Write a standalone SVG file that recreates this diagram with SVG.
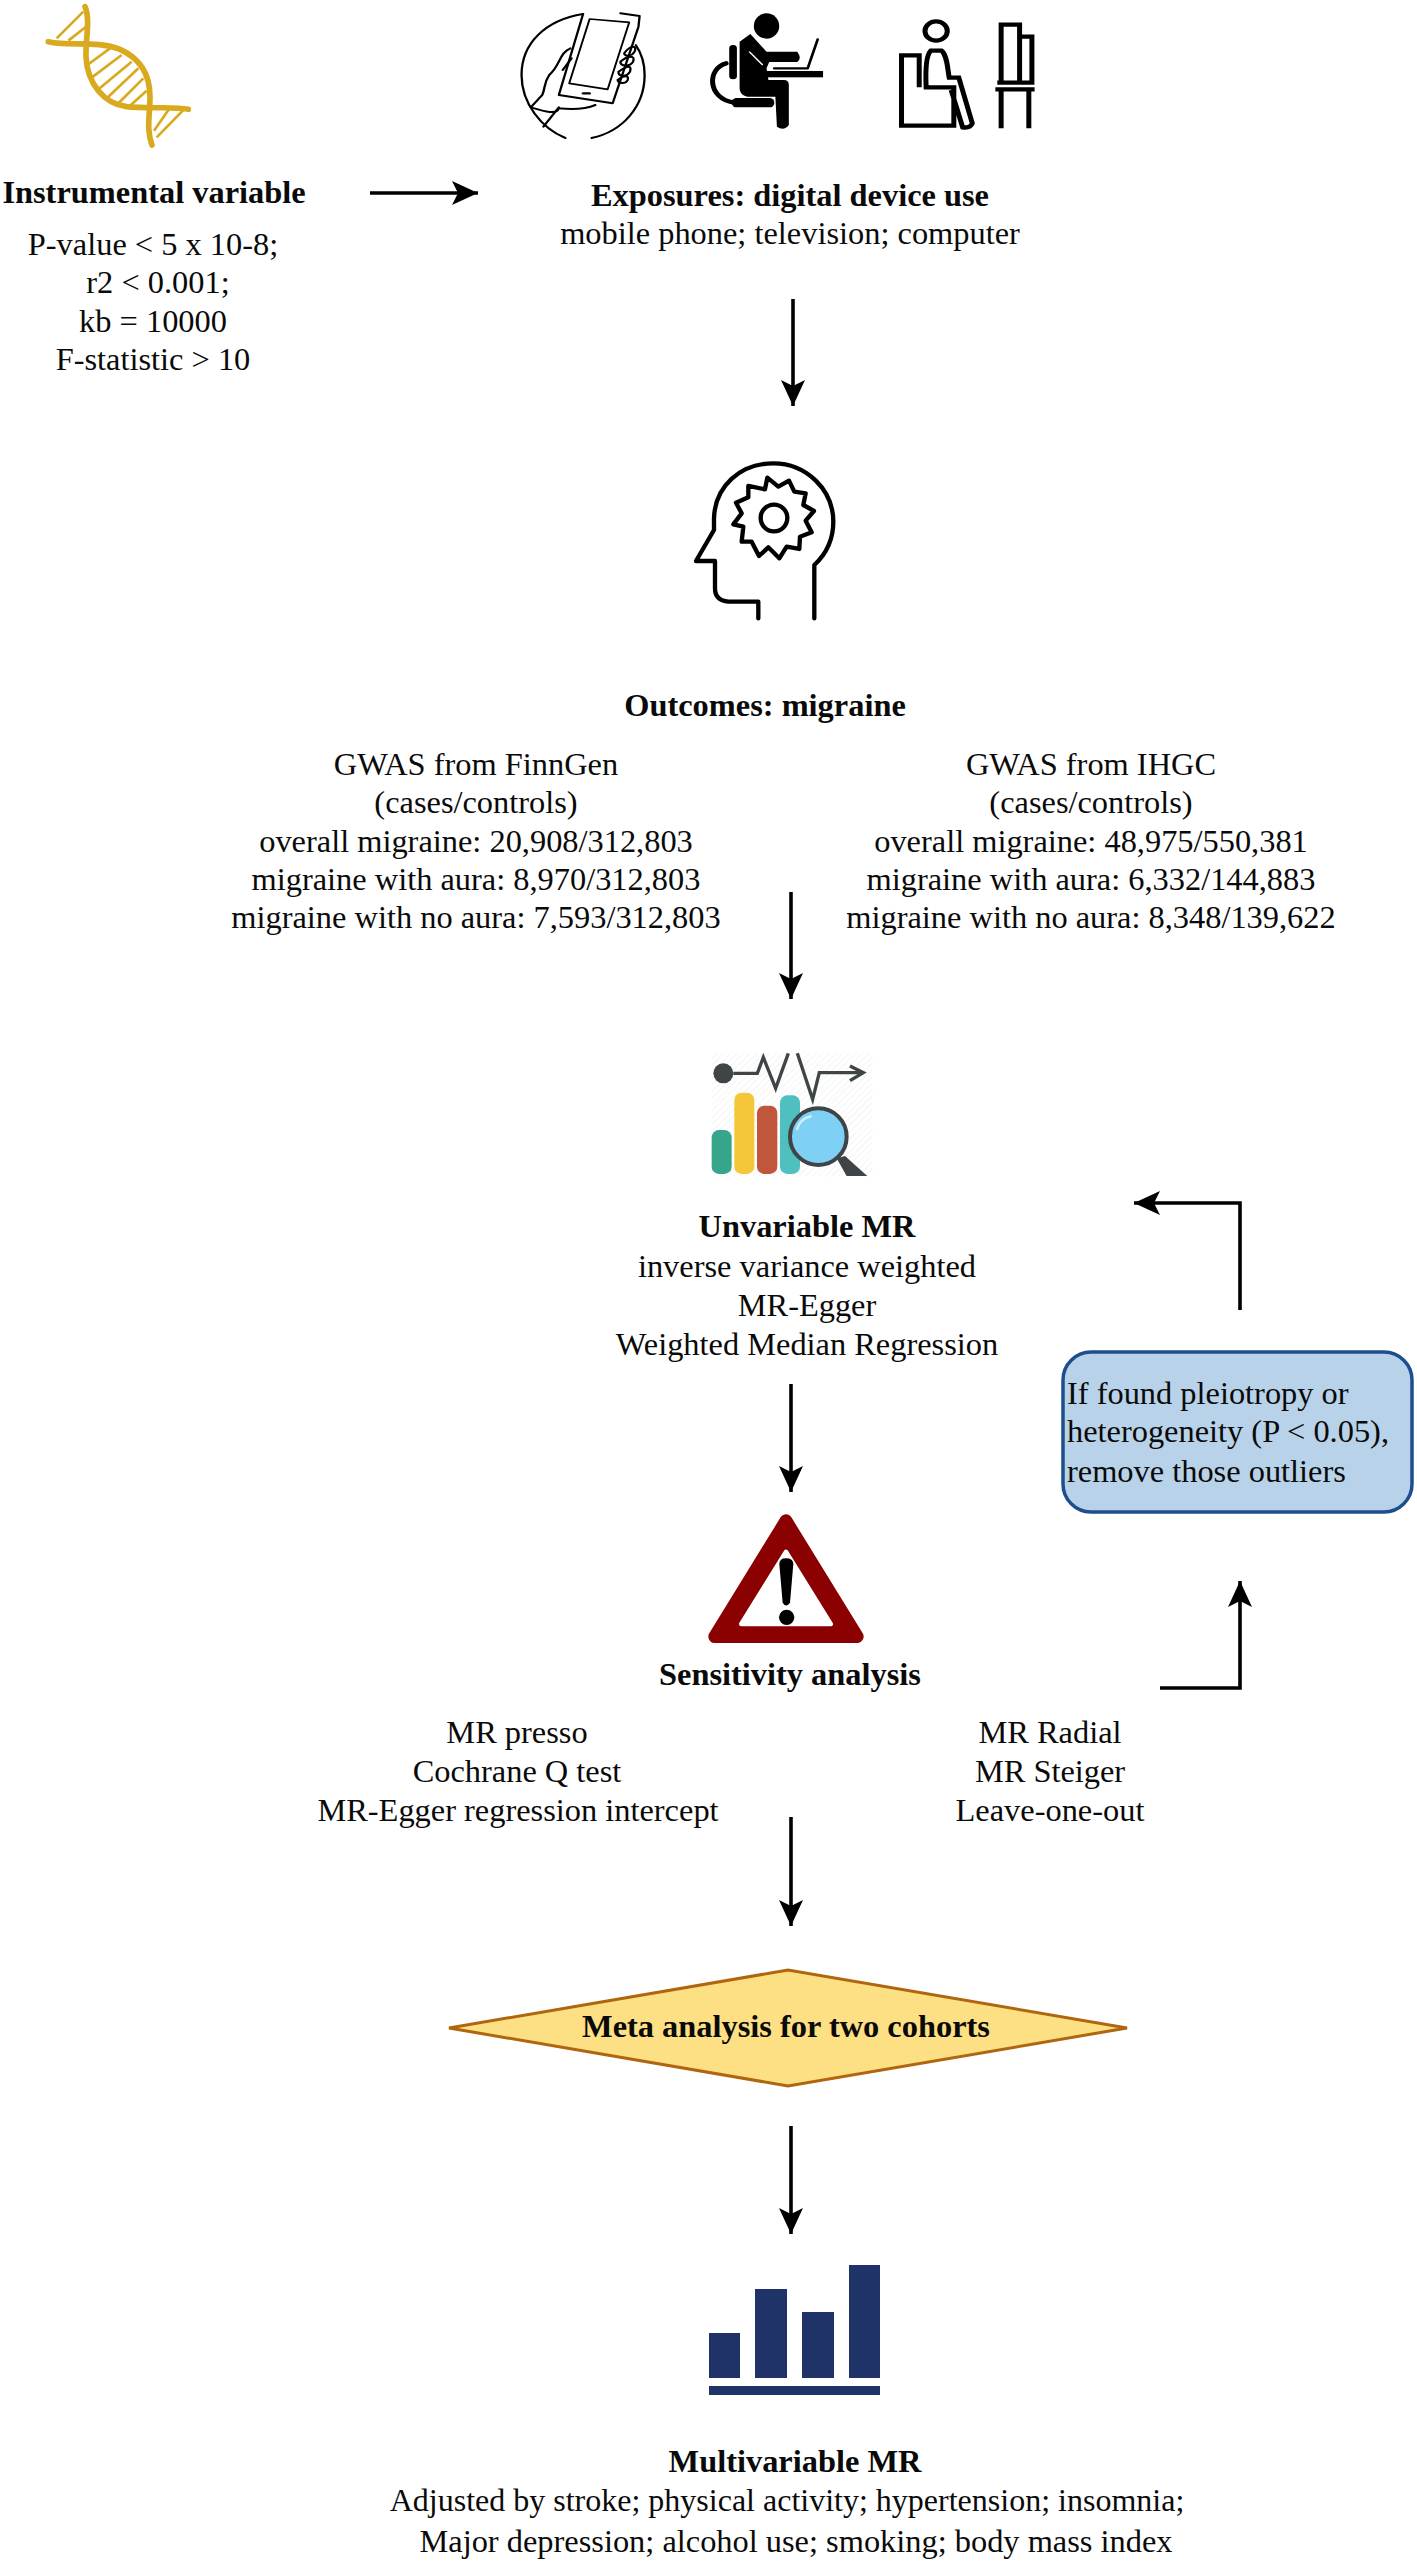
<svg xmlns="http://www.w3.org/2000/svg" width="1417" height="2561" viewBox="0 0 1417 2561">
<defs>
<style>
text{font-family:"Liberation Serif","Times New Roman",serif;font-size:32.4px;fill:#0a0a0a;text-anchor:middle}
.b{font-weight:bold}
.l{text-anchor:start}
.conn path{fill:none;stroke:#000;stroke-width:3.6}
.rung{stroke:#d9a91e;stroke-width:8;fill:none}
.strand{stroke:#d9a91e;stroke-width:17;fill:none;stroke-linecap:round}
.k{fill:none;stroke:#000;stroke-linecap:round;stroke-linejoin:round}
</style>
<marker id="ah" markerUnits="userSpaceOnUse" markerWidth="30" markerHeight="28" refX="26" refY="13" orient="auto">
<path d="M0 1 L26 13 L0 25 L6 13 Z" fill="#000"/>
</marker>
<pattern id="st" width="14" height="14" patternUnits="userSpaceOnUse" patternTransform="rotate(45)">
<rect width="14" height="14" fill="#fff"/><rect width="4" height="14" fill="#f6f6f6"/>
</pattern>
</defs>
<rect width="1417" height="2561" fill="#fff"/>

<g id="connectors" class="conn">
<path d="M370 193H478" marker-end="url(#ah)"/>
<path d="M793 299V406" marker-end="url(#ah)"/>
<path d="M791 892V999" marker-end="url(#ah)"/>
<path d="M791 1384V1492" marker-end="url(#ah)"/>
<path d="M791 1817V1926" marker-end="url(#ah)"/>
<path d="M791 2126V2234" marker-end="url(#ah)"/>
<path d="M1160 1688H1240V1581" marker-end="url(#ah)"/>
<path d="M1240 1310V1203H1134" marker-end="url(#ah)"/>
</g>

<g id="node-instrument">
<g transform="scale(.3333)">
<path class="rung" d="M170 115L250 35M205 122L265 75M262 195L330 145M272 235L365 165M290 272L395 185M315 300L415 205M350 315L430 235M385 322L440 272M462 392L512 320M470 412L555 325"/>
<path class="strand" d="M145 125C210 140 290 120 360 148C420 175 450 225 450 290C450 350 438 385 456 435"/>
<path class="strand" d="M255 20C272 60 256 120 258 170C262 250 310 310 380 320C450 328 520 318 565 328"/>
</g>
<text class="b" x="154" y="203">Instrumental variable</text>
<text x="153" y="255">P-value &lt; 5 x 10-8;</text>
<text x="158" y="293">r2 &lt; 0.001;</text>
<text x="153" y="332">kb = 10000</text>
<text x="153" y="370">F-statistic &gt; 10</text>
</g>

<g id="node-exposures">
<g transform="translate(480 0) scale(.3846 .3333)">
<g class="k" stroke-width="6">
<path d="M268 42C170 60 108 130 108 225C108 310 160 385 222 414"/>
<path d="M290 414C370 395 428 320 428 225C428 190 420 160 405 135"/>
<path d="M365 40L415 48L412 80L345 310L205 285L268 42"/>
<path d="M285 57L388 67L332 268L232 250Z" stroke-width="5"/>
<path d="M268 280H285" stroke-width="7"/>
<path d="M235 145C205 160 210 195 180 225C165 250 170 265 162 285L132 322M238 175L215 210M132 322C170 335 200 345 205 325C250 330 280 325 300 315M205 322L165 380"/>
<path d="M375 160C390 135 410 135 402 155C395 170 375 170 375 160M365 185C385 165 405 165 398 185C390 200 365 200 365 185M360 215C385 195 395 195 390 215C380 232 360 230 360 215M358 240C375 225 388 225 384 240C380 252 360 252 358 240"/>
</g>
<ellipse cx="745" cy="78" rx="33" ry="38"/>
<path d="M703 102L745 155H825Q838 175 825 186H752L745 205L750 240H790Q803 240 803 255V375Q790 395 772 380L768 290H695Q675 285 675 265V125Z"/>
<rect x="648" y="135" width="20" height="103" rx="10"/>
<path class="k" stroke-width="13" d="M640 190C590 205 590 295 660 308"/>
<rect x="655" y="294" width="110" height="28" rx="12"/>
<path class="k" stroke-width="7" d="M878 118L852 205H765"/>
<rect x="745" y="213" width="147" height="19"/>
<path d="M700 155L735 195" stroke="#fff" stroke-width="4"/>
<g class="k" stroke-width="13" style="stroke-linecap:butt;stroke-linejoin:miter">
<circle cx="1186" cy="93" r="29"/>
<path d="M1142 262V166H1096V377H1232V262H1160C1158 210 1160 165 1172 152H1200C1215 165 1216 210 1220 233H1245L1280 370Q1275 385 1255 382L1225 270"/>
<path d="M1355 248V74H1403V248M1403 110H1435V248H1345"/>
<path d="M1340 268H1442M1355 268V385M1427 268V385"/>
</g>
</g>
<text class="b" x="790" y="206">Exposures: digital device use</text>
<text x="790" y="244">mobile phone; television; computer</text>
</g>

<g id="node-outcomes">
<g transform="translate(640 430) scale(.3333)">
<path class="k" stroke-width="13" d="M355 565V515H265Q225 512 225 475V393H168L222 300V265C225 170 300 100 400 100C500 100 580 180 580 275C580 330 555 375 523 405V565"/>
<path class="k" stroke-width="13" d="M382 143L415 170L447 152L463 185L497 190L490 225L522 243L497 272L515 307L480 320L478 357L440 350L418 385L385 352L357 378L335 335L305 335L310 290L280 283L305 250L288 218L325 202L325 168L375 178Z"/>
<circle class="k" stroke-width="13" cx="402" cy="264" r="40"/>
</g>
<text class="b" x="765" y="716">Outcomes: migraine</text>
<text x="476" y="775">GWAS from FinnGen</text>
<text x="476" y="813">(cases/controls)</text>
<text x="476" y="852">overall migraine: 20,908/312,803</text>
<text x="476" y="890">migraine with aura: 8,970/312,803</text>
<text x="476" y="928">migraine with no aura: 7,593/312,803</text>
<text x="1091" y="775">GWAS from IHGC</text>
<text x="1091" y="813">(cases/controls)</text>
<text x="1091" y="852">overall migraine: 48,975/550,381</text>
<text x="1091" y="890">migraine with aura: 6,332/144,883</text>
<text x="1091" y="928">migraine with no aura: 8,348/139,622</text>
</g>

<g id="node-univariable">
<g transform="translate(680 1030) scale(.3333)">
<rect x="95" y="68" width="483" height="372" fill="url(#st)"/>
<rect x="95" y="300" width="60" height="132" rx="22" fill="#36a68b"/>
<rect x="163" y="188" width="60" height="244" rx="22" fill="#f4c63a"/>
<rect x="231" y="227" width="61" height="205" rx="22" fill="#c0563b"/>
<rect x="300" y="196" width="60" height="236" rx="22" fill="#4fbfc0"/>
<path d="M470 385L495 378L562 438H500Z" fill="#3f4447"/>
<circle cx="415" cy="320" r="85" fill="#7fd0f5" stroke="#3f4447" stroke-width="12"/>
<path d="M350 300Q360 265 395 258" fill="none" stroke="#cdeefc" stroke-width="7"/>
<circle cx="130" cy="130" r="30" fill="#3f4447"/>
<path d="M160 130H232L250 82L287 175L325 70M352 70L398 208L418 128H545M510 108L550 128L510 152" fill="none" stroke="#3f4447" stroke-width="10"/>
</g>
<text class="b" x="807" y="1237">Unvariable MR</text>
<text x="807" y="1277">inverse variance weighted</text>
<text x="807" y="1316">MR-Egger</text>
<text x="807" y="1355">Weighted Median Regression</text>
</g>

<g id="node-sensitivity">
<g transform="translate(680 1490) scale(.3333)">
<path d="M318 92L532 440H104Z" fill="#8b0000" stroke="#8b0000" stroke-width="38" stroke-linejoin="round"/>
<path d="M318 186L452 402H184Z" fill="#fff" stroke="#fff" stroke-width="14" stroke-linejoin="round"/>
<path d="M298 222Q298 205 318 205Q340 205 340 222L330 338Q318 355 308 338Z" fill="#000"/>
<circle cx="320" cy="382" r="23" fill="#000"/>
</g>
<text class="b" x="790" y="1685">Sensitivity analysis</text>
<text x="517" y="1743">MR presso</text>
<text x="517" y="1782">Cochrane Q test</text>
<text x="518" y="1821">MR-Egger regression intercept</text>
<text x="1050" y="1743">MR Radial</text>
<text x="1050" y="1782">MR Steiger</text>
<text x="1050" y="1821">Leave-one-out</text>
</g>

<g id="node-outliers">
<rect x="1063" y="1352" width="349" height="160" rx="28" fill="#b8d2e9" stroke="#1f4e8c" stroke-width="3.5"/>
<text class="l" x="1067" y="1404">If found pleiotropy or</text>
<text class="l" x="1067" y="1442">heterogeneity (P &lt; 0.05),</text>
<text class="l" x="1067" y="1482">remove those outliers</text>
</g>

<g id="node-meta">
<path d="M449 2028L788 1970L1127 2028L788 2086Z" fill="#fde084" stroke="#b0660e" stroke-width="3"/>
<text class="b" x="786" y="2037">Meta analysis for two cohorts</text>
</g>

<g id="node-multivariable">
<g fill="#1f3368">
<rect x="709" y="2333" width="31" height="45"/>
<rect x="755" y="2289" width="32" height="89"/>
<rect x="802" y="2312" width="32" height="66"/>
<rect x="849" y="2265" width="31" height="113"/>
<rect x="709" y="2386" width="171" height="9"/>
</g>
<text class="b" x="795" y="2472">Multivariable MR</text>
<text x="787" y="2511" style="font-size:32px">Adjusted by stroke; physical activity; hypertension; insomnia;</text>
<text x="796" y="2552">Major depression; alcohol use; smoking; body mass index</text>
</g>
</svg>
